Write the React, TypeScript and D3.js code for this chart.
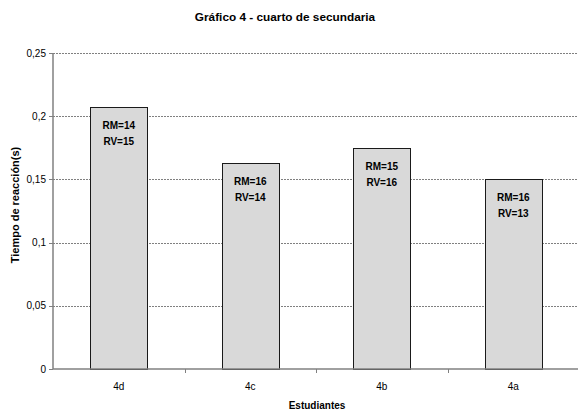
import React from "react";
import * as d3 from "d3";

const categories = ["4d", "4c", "4b", "4a"];
const values = [0.207, 0.163, 0.175, 0.15];
const rmLabels = ["RM=14", "RM=16", "RM=15", "RM=16"];
const rvLabels = ["RV=15", "RV=14", "RV=16", "RV=13"];
const yTicks = [0, 0.05, 0.1, 0.15, 0.2, 0.25];
const yTickLabels = ["0", "0,05", "0,1", "0,15", "0,2", "0,25"];

const W = 578;
const H = 411;
const left = 53;
const right = 578;
const top = 53;
const bottom = 369;

export default function App() {
  const x = d3.scaleBand<string>().domain(categories).range([left, right + 1]).paddingInner(0.565).paddingOuter(0.2825);
  const band = d3.scaleBand<string>().domain(categories).range([left, right + 1]);
  const y = d3.scaleLinear().domain([0, 0.25]).range([bottom, top]);
  const font = "'Liberation Sans', Arial, sans-serif";

  return (
    <svg width={W} height={H} style={{ position: "absolute", left: 0, top: 0, background: "#fff" }}>
      <text x={285} y={21} textAnchor="middle" fontFamily={font} fontWeight="bold" fontSize={11.8} fill="#000">
        Gráfico 4 - cuarto de secundaria
      </text>
      {/* grid */}
      {yTicks.filter((t) => t > 0).map((t) => (
        <line key={t} x1={left} x2={right} y1={Math.round(y(t)) + 0.5} y2={Math.round(y(t)) + 0.5}
          stroke="#808080" strokeWidth={1} strokeDasharray="2,1" />
      ))}
      {/* bars */}
      {categories.map((c, i) => {
        const bx = x(c)!;
        const bw = x.bandwidth();
        const by = y(values[i]);
        const cx = bx + bw / 2;
        return (
          <g key={c}>
            <rect x={Math.round(bx) + 0.5} y={Math.round(by) + 0.5} width={Math.round(bw)} height={Math.round(bottom - by)}
              fill="#d9d9d9" stroke="#1a1a1a" strokeWidth={1} />
            <text x={cx} y={by + 22} textAnchor="middle" fontFamily={font} fontWeight="bold" fontSize={10} fill="#000">
              {rmLabels[i]}
            </text>
            <text x={cx} y={by + 38} textAnchor="middle" fontFamily={font} fontWeight="bold" fontSize={10} fill="#000">
              {rvLabels[i]}
            </text>
          </g>
        );
      })}
      {/* y axis */}
      <line x1={left} x2={left} y1={top} y2={bottom} stroke="#808080" strokeWidth={1.5} />
      {yTicks.map((t, i) => (
        <g key={t}>
          <line x1={left - 4} x2={left} y1={Math.round(y(t)) + 0.5} y2={Math.round(y(t)) + 0.5} stroke="#808080" />
          <text x={46} y={y(t)} dy="0.35em" textAnchor="end" fontFamily={font} fontSize={10} fill="#000">
            {yTickLabels[i]}
          </text>
        </g>
      ))}
      {/* x axis */}
      <line x1={left} x2={right} y1={bottom} y2={bottom} stroke="#808080" strokeWidth={1.5} />
      {categories.slice(1).map((c) => (
        <line key={c} x1={Math.round(band(c)!) + 0.5} x2={Math.round(band(c)!) + 0.5} y1={bottom} y2={bottom + 4} stroke="#808080" />
      ))}
      {categories.map((c) => (
        <text key={c} x={band(c)! + band.bandwidth() / 2} y={390} textAnchor="middle" fontFamily={font} fontSize={10} fill="#000">
          {c}
        </text>
      ))}
      <text x={317} y={409} textAnchor="middle" fontFamily={font} fontWeight="bold" fontSize={10} fill="#000">
        Estudiantes
      </text>
      <text transform="translate(19,205) rotate(-90)" textAnchor="middle" fontFamily={font} fontWeight="bold" fontSize={11} fill="#000">
        Tiempo de reacción(s)
      </text>
    </svg>
  );
}
